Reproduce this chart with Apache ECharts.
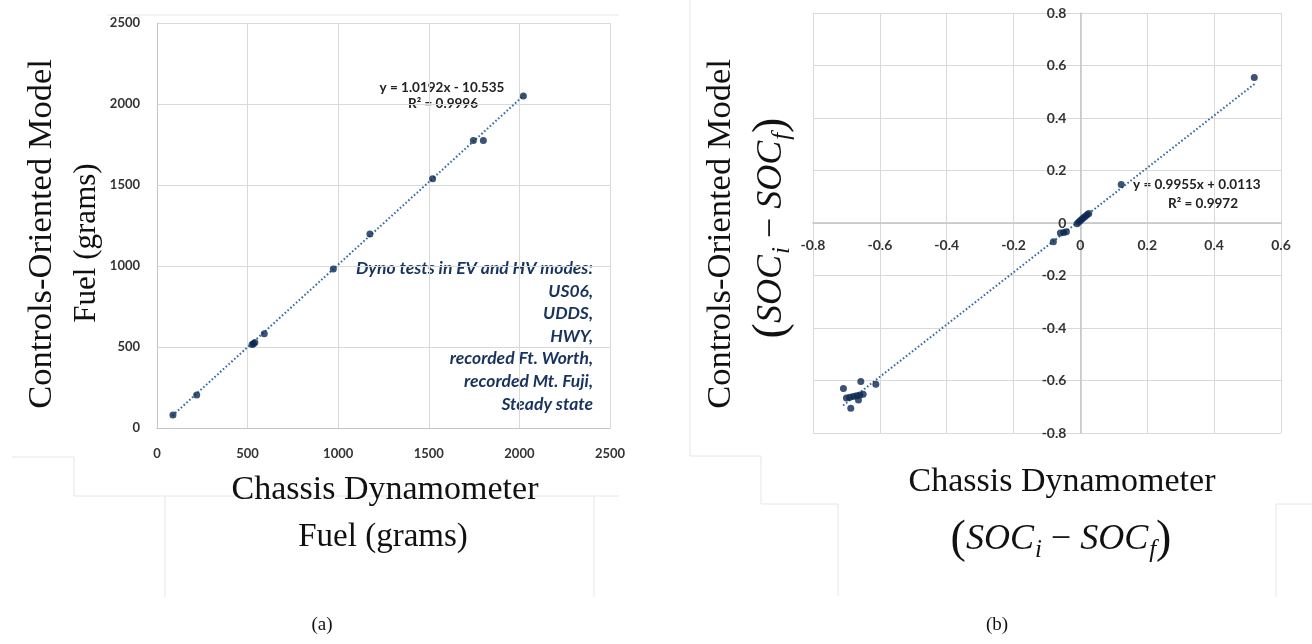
<!DOCTYPE html>
<html>
<head>
<meta charset="utf-8">
<script src="https://cdn.jsdelivr.net/npm/echarts@6/dist/echarts.min.js"></script>
<style>
  html, body { margin: 0; padding: 0; background: #ffffff; }
  #chart { width: 1312px; height: 644px; }
</style>
</head>
<body>
<div id="chart"></div>
<script>
// Panel (a): fuel used over each drive cycle, dynamometer vs. model (grams)
const fuelDyno  = [88, 219, 525, 532, 540, 592, 973, 1175, 1521, 1746, 1801, 2022];
const fuelModel = [80, 204, 515, 520, 528, 582, 982, 1197, 1538, 1774, 1774, 2049];
const fuelFit   = { slope: 1.0192, intercept: -10.535, r2: 0.9996, xFrom: 85, xTo: 2025 };
const fuelAxis  = { min: 0, max: 2500, step: 500 };

// Panel (b): state-of-charge swing (SOC_i - SOC_f), dynamometer vs. model
const socDyno  = [0.520, 0.122, 0.025, 0.020, 0.015, 0.010, 0.005, 0.000, -0.005, -0.010,
                  -0.042, -0.050, -0.060, -0.081, -0.612, -0.657, -0.709, -0.687, -0.664,
                  -0.700, -0.690, -0.680, -0.670, -0.660, -0.650];
const socModel = [0.554, 0.147, 0.036, 0.031, 0.026, 0.021, 0.015, 0.010, 0.004, -0.003,
                  -0.033, -0.036, -0.038, -0.071, -0.614, -0.604, -0.630, -0.706, -0.674,
                  -0.667, -0.664, -0.661, -0.658, -0.655, -0.652];
const socFit   = { slope: 0.9955, intercept: 0.0113, r2: 0.9972, xFrom: -0.71, xTo: 0.525 };
const socXAxis = { min: -0.8, max: 0.6, step: 0.2 };
const socYAxis = { min: -0.8, max: 0.8, step: 0.2 };

// Note listing the test cycles
const cycleNote = [
  'Dyno tests in EV and HV modes:',
  'US06,',
  'UDDS,',
  'HWY,',
  'recorded Ft. Worth,',
  'recorded Mt. Fuji,',
  'Steady state'
];

const MARKER = '#0a2853';
const FIT_LINE = '#3569a3';
const GRID = '#d9d9d9';
const AXIS = '#c4c4c4';
const TICK_FONT = { fontFamily: 'Lato', fontWeight: 'bold', color: '#333333' };
const SERIF = 'Liberation Serif';

// plot rectangles
const gridA = { left: 157, top: 23, width: 453, height: 405 };
const gridB = { left: 813, top: 13, width: 468, height: 420 };

function pairs(xs, ys) { return xs.map((x, i) => [x, ys[i]]); }
function fitLine(f) {
  return [[f.xFrom, f.slope * f.xFrom + f.intercept], [f.xTo, f.slope * f.xTo + f.intercept]];
}
function fitLabel(f) {
  const sign = f.intercept < 0 ? '-' : '+';
  return 'y = ' + f.slope + 'x ' + sign + ' ' + Math.abs(f.intercept);
}
function plain(v) { return String(Math.round(v * 10) / 10); }

function valueAxis(gridIndex, a, extra) {
  return Object.assign({
    type: 'value', gridIndex: gridIndex,
    min: a.min, max: a.max, interval: a.step,
    axisTick: { show: false },
    axisLine: { show: true, onZero: false, lineStyle: { color: AXIS, width: 1 } },
    splitLine: { show: true, lineStyle: { color: GRID, width: 1 } }
  }, extra);
}

// Panel (b) axes cross at zero: shift each axis (line and labels) in to the zero position
const socXOffset = -gridB.height * (0 - socYAxis.min) / (socYAxis.max - socYAxis.min);
const socYOffset = -gridB.width * (0 - socXAxis.min) / (socXAxis.max - socXAxis.min);

const chart = echarts.init(document.getElementById('chart'), null, { renderer: 'canvas' });

// Math-style label: (SOC_i − SOC_f)
const socRich = {
  p: { fontFamily: SERIF, fontSize: 46, fill: '#111' },
  m: { fontFamily: SERIF, fontStyle: 'italic', fontSize: 36, fill: '#111' },
  o: { fontFamily: SERIF, fontSize: 36, fill: '#111' },
  s: { fontFamily: SERIF, fontStyle: 'italic', fontSize: 25, fill: '#111', padding: [20, 0, 0, 1] }
};
const socText = '{p|(}{m|SOC}{s|i}{o| − }{m|SOC}{s|f}{p|)}';

function titleText(x, y, text, rotate, size) {
  return {
    type: 'text', x: x, y: y, rotation: rotate ? Math.PI / 2 : 0, silent: true,
    style: { text: text, fontFamily: SERIF, fontSize: size || 33, fill: '#111',
             align: 'center', verticalAlign: 'middle' }
  };
}
function faint(points) {
  return { type: 'polyline', silent: true, shape: { points: points },
           style: { stroke: '#e6e6e6', lineWidth: 1, fill: null } };
}
function note(x, y, text, align, size) {
  return { type: 'text', x: x, y: y, silent: true,
           style: { text: text, fontFamily: 'Lato', fontWeight: 'bold', fontSize: size || 13.5,
                    fill: '#222222', align: align || 'center', verticalAlign: 'middle' } };
}

chart.setOption({
  backgroundColor: '#ffffff',
  animation: false,
  grid: [gridA, gridB],
  xAxis: [
    valueAxis(0, fuelAxis, { axisLabel: Object.assign({ margin: 19, fontSize: 13, formatter: plain }, TICK_FONT) }),
    valueAxis(1, socXAxis, { offset: socXOffset,
                             axisLabel: Object.assign({ margin: 15, fontSize: 14, formatter: plain }, TICK_FONT),
                             axisLine: { show: true, onZero: false, lineStyle: { color: AXIS, width: 1.5 } } })
  ],
  yAxis: [
    valueAxis(0, fuelAxis, { axisLabel: Object.assign({ margin: 17, fontSize: 13, formatter: plain }, TICK_FONT) }),
    valueAxis(1, socYAxis, { offset: socYOffset,
                             axisLabel: Object.assign({ margin: 14, fontSize: 14, formatter: plain }, TICK_FONT),
                             axisLine: { show: true, onZero: false, lineStyle: { color: AXIS, width: 1.5 } } })
  ],
  series: [
    { type: 'line', xAxisIndex: 0, yAxisIndex: 0, data: fitLine(fuelFit), symbol: 'none', z: 2,
      lineStyle: { color: FIT_LINE, width: 2, type: [1.6, 2.2] } },
    { type: 'scatter', xAxisIndex: 0, yAxisIndex: 0, data: pairs(fuelDyno, fuelModel),
      symbolSize: 7, z: 3, itemStyle: { color: MARKER } },
    { type: 'line', xAxisIndex: 1, yAxisIndex: 1, data: fitLine(socFit), symbol: 'none', z: 2,
      lineStyle: { color: FIT_LINE, width: 2, type: [1.6, 2.2] } },
    { type: 'scatter', xAxisIndex: 1, yAxisIndex: 1, data: pairs(socDyno, socModel),
      symbolSize: 7, z: 3, itemStyle: { color: MARKER } }
  ],
  graphic: [
    // outlines of the two panels
    faint([[107, 15], [619, 15]]),
    faint([[12, 457], [74, 457], [74, 496], [165, 496], [165, 597]]),
    faint([[165, 496], [619, 496]]),
    faint([[594, 496], [594, 597]]),
    faint([[690, 0], [690, 456], [761, 456], [761, 504], [838, 504], [838, 596]]),
    faint([[1276, 504], [1276, 597]]),
    faint([[1276, 504], [1312, 504]]),

    // regression annotations
    note(442, 88, fitLabel(fuelFit)),
    note(443, 104, 'R² = ' + fuelFit.r2),
    note(1133, 185, fitLabel(socFit), 'left'),
    note(1203, 204, 'R² = ' + socFit.r2),

    // drive-cycle note
    { type: 'text', x: 593, y: 257, silent: true,
      style: { text: cycleNote.join('\n'), fontFamily: 'Lato', fontStyle: 'italic', fontWeight: 'bold',
               fontSize: 17.5, lineHeight: 22.6, fill: '#17335e', align: 'right', verticalAlign: 'top' } },

    // axis titles, panel (a)
    titleText(42, 234, 'Controls-Oriented Model', true, 34.5),
    titleText(87, 243, 'Fuel (grams)', true, 31),
    titleText(385, 490, 'Chassis Dynamometer', false, 34),
    titleText(383, 537, 'Fuel (grams)', false, 33),

    // axis titles, panel (b)
    titleText(721, 234, 'Controls-Oriented Model', true, 34.5),
    { type: 'text', x: 772, y: 228, rotation: Math.PI / 2, silent: true,
      style: { text: socText, rich: socRich, align: 'center', verticalAlign: 'middle' } },
    titleText(1062, 482, 'Chassis Dynamometer', false, 34),
    { type: 'text', x: 1061, y: 540, silent: true,
      style: { text: socText, rich: socRich, align: 'center', verticalAlign: 'middle' } },

    // panel captions
    titleText(322, 625, '(a)', false, 19),
    titleText(997, 625, '(b)', false, 19)
  ]
});
</script>
</body>
</html>
